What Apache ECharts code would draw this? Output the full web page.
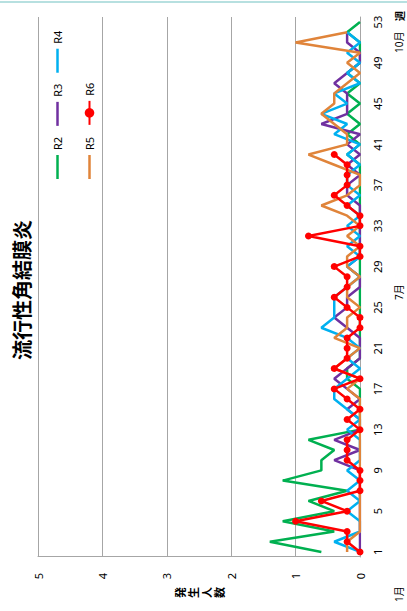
<!DOCTYPE html>
<html><head><meta charset="utf-8">
<script src="https://cdn.jsdelivr.net/npm/echarts@6/dist/echarts.min.js"></script>
<style>
html,body{margin:0;padding:0;width:407px;height:611px;overflow:hidden;background:#fff}
#c{position:absolute;left:0;top:0;width:611px;height:407px;transform-origin:0 0;transform:translate(0,611px) rotate(-90deg);}
</style></head><body><div id="c"></div>
<script>
const title = '流行性角結膜炎';
const yName = '発生人数';
const weeks = ['1','2','3','4','5','6','7','8','9','10','11','12','13','14','15','16','17','18','19','20',
  '21','22','23','24','25','26','27','28','29','30','31','32','33','34','35','36','37','38','39','40',
  '41','42','43','44','45','46','47','48','49','50','51','52','53'];
const seriesNames = ['R2','R3','R4','R5','R6'];
const R2 = [0.6,1.4,0.4,1.2,0.4,0.8,0.2,1.2,0.6,0.6,0.4,0.8,0,0,0,0,0,0.2,0.2,0,
  0,0,0,0,0,0,0,0,0,0,0,0,0,0,0,0,0,0,0,0.2,
  0,0.2,0,0.2,0,0.2,0,0.2,0,0,0,0.2,0];
const R3 = [0,0,0,0,0,0,0,0,0,0.4,0,0.4,0,0,0.2,0,0.2,0.4,0.2,0,
  0,0,0.2,0.4,0.2,0.2,0,0,0.2,0,0,0,0,0,0,0.2,0.2,0,0.2,0,
  0.2,0,0.6,0.2,0.2,0.2,0.4,0.2,0,0,0.2,0.2,null];
const R4 = [0,0.4,0,0,0.2,0,0.2,0,0.2,0,0,0,0.2,0,0.2,0.4,0.4,0.2,0,0.2,
  0,0.2,0.6,0.4,0.4,0.4,0.2,0,0.2,0,0.2,0,0.2,0,0.2,0,0.2,0.2,0,0.2,
  0,0.4,0.2,0.6,0.2,0.4,0,0.2,0,0.2,0,0.2,null];
const R5 = [0.2,0.2,0,0,0,0,0,0,0,0,0,0,0,0,0,0,0.2,0,0.4,0.2,
  0,0.4,0.2,0.2,0,0.2,0.2,0,0.2,0.2,0,0.2,0,0.2,0.6,0.2,0,0,0.4,0.8,
  0.2,0.2,0.4,0.6,0.4,0.4,0.2,0,0.2,0,1.0,0.2,null];
const R6 = [0,0.2,0.2,1.0,0.2,0.6,0,0,0,0.2,0.2,0.2,0,0.2,0,0.2,0.4,0,0.4,0.2,
  0.2,0.2,0,0,0.2,0.4,0.2,0.2,0.4,0,0,0.8,0,0,0.2,0.4,0.2,0.2,0.2,0.4,
  null,null,null,null,null,null,null,null,null,null,null,null,null];
const monthLabels = ['1月','7月','10月'];
const weekName = '週';

const colors = {R2:'#00b050', R3:'#7030a0', R4:'#00b0f0', R5:'#e0843a', R6:'#ff0000'};
const dataMap = {R2,R3,R4,R5,R6};
const font = '"Noto Sans", "Noto Sans CJK JP", sans-serif';
const cjk = '"Noto Sans CJK JP", sans-serif';
const lineIcon = 'path://M0,0H24V2.5H0Z';

const chart = echarts.init(document.getElementById('c'), null, {renderer:'svg', width:611, height:407});
const series = seriesNames.map((n, i) => ({
  name:n, type:'line', data:dataMap[n],
  symbol: n==='R6' ? 'circle' : 'none',
  symbolSize: 7,
  showSymbol: n==='R6',
  showAllSymbol: true,
  lineStyle:{color:colors[n], width:2.5},
  itemStyle:{color:colors[n]},
  connectNulls:false,
  animation:false,
  z: 2 + i
}));
function legendItem(n){
  return n==='R6' ? {name:n} : {name:n, icon:lineIcon};
}
const legendCommon = {itemWidth:24, itemHeight:12, itemGap:11, padding:0, symbolKeepAspect:true,
  textStyle:{fontFamily:font, fontSize:11, color:'#000'}};
chart.setOption({
  animation:false,
  backgroundColor:'#fff',
  title:{text:title, left:316, top:6, textAlign:'center',
    textStyle:{fontFamily:cjk, fontWeight:'bold', fontSize:20, color:'#000'}},
  legend:[
    Object.assign({data:['R2','R3','R4'].map(legendItem), left:432, top:52}, legendCommon),
    Object.assign({data:['R5','R6'].map(legendItem), left:432, top:84}, legendCommon)
  ],
  grid:{left:54, right:17, top:38, bottom:47, containLabel:false},
  xAxis:{type:'category', data:weeks, boundaryGap:true,
    axisLine:{show:true, lineStyle:{color:'#a6a6a6', width:1}},
    axisTick:{show:false},
    axisLabel:{interval:3, margin:12, fontFamily:font, fontSize:11, color:'#000'}},
  yAxis:{type:'value', min:0, max:5, interval:1,
    name:yName.split('').join('\n'), nameLocation:'middle', nameGap:30, nameRotate:0,
    nameTextStyle:{fontFamily:cjk, fontWeight:'bold', fontSize:11, color:'#000', lineHeight:13},
    axisLine:{show:true, lineStyle:{color:'#a6a6a6', width:1}},
    axisTick:{show:false},
    axisLabel:{margin:16, fontFamily:font, fontSize:11, color:'#000'},
    splitLine:{show:true, lineStyle:{color:'#a6a6a6', width:1}}},
  graphic:[
    {type:'line', shape:{x1:609, y1:0, x2:609, y2:407}, style:{stroke:'#9fd6d6', lineWidth:1.5}},
    {type:'text', left:9, top:394, style:{text:monthLabels[0], fontFamily:font, fontSize:10, fill:'#000'}},
    {type:'text', left:311, top:394, style:{text:monthLabels[1], fontFamily:font, fontSize:10, fill:'#000'}},
    {type:'text', left:558, top:394, style:{text:monthLabels[2], fontFamily:font, fontSize:10, fill:'#000'}},
    {type:'text', left:590, top:394, style:{text:weekName, fontFamily:cjk, fontWeight:'bold', fontSize:10, fill:'#000'}}
  ],
  series: series
});
</script></body></html>
